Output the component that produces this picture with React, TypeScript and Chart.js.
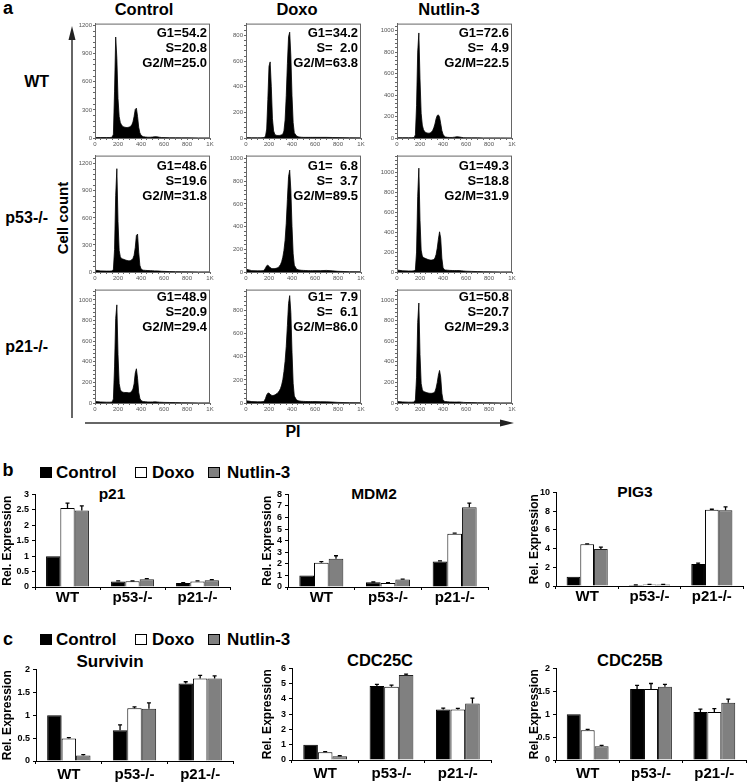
import React, { useEffect, useRef } from 'react';
import { Chart, registerables } from 'chart.js';

Chart.register(...registerables);

const FONT = '"Liberation Sans", Arial, Helvetica, sans-serif';
Chart.defaults.font.family = FONT;

// ---------------- Panel a: DNA content histograms ----------------
const treatments = ['Control', 'Doxo', 'Nutlin-3'];
const genotypes = ['WT', 'p53-/-', 'p21-/-'];

// PI channel positions (shared grid)
const piGrid = [0, 50, 100, 130, 150,
  160, 170, 180, 190, 200, 210, 220, 230, 240, 250, 260, 270, 280, 290, 300, 310, 320, 330, 340, 350, 360, 370, 380, 390, 400, 410, 420,
  440, 460, 480, 500, 520, 540, 560, 580, 600,
  650, 700, 750, 800, 900, 1000];

const wtControlCounts = [5, 5, 5, 5, 10,
  40, 500, 1077, 850, 420, 230, 165, 140, 125, 118, 115, 112, 112, 114, 118, 125, 140, 170, 230, 305, 318, 230, 115, 55, 30, 20, 14,
  10, 8, 8, 10, 14, 12, 8, 5, 4,
  3, 3, 2, 2, 1, 1];
const wtDoxoCounts = [3, 2, 2, 2, 3,
  5, 15, 70, 300, 560, 594, 400, 150, 55, 30, 22, 20, 20, 20, 22, 25, 30, 55, 140, 330, 580, 790, 826, 640, 330, 120, 40,
  15, 8, 6, 5, 5, 5, 5, 5, 5,
  5, 5, 4, 3, 2, 1];
const wtNutlinCounts = [3, 3, 3, 3, 5,
  30, 300, 800, 978, 550, 230, 120, 78, 60, 52, 47, 45, 45, 48, 55, 70, 95, 130, 180, 210, 215, 195, 135, 70, 35, 18, 10,
  6, 5, 5, 8, 12, 10, 6, 3, 2,
  2, 2, 1, 1, 1, 0];
const p53ControlCounts = [20, 12, 10, 10, 12,
  30, 250, 850, 1145, 560, 240, 170, 150, 145, 140, 135, 130, 128, 125, 125, 128, 135, 150, 185, 270, 405, 420, 220, 75, 35, 25, 20,
  18, 16, 15, 14, 12, 12, 10, 8, 7,
  5, 4, 3, 2, 1, 1];
const p53DoxoCounts = [25, 12, 10, 10, 12,
  20, 35, 55, 60, 50, 40, 32, 30, 30, 30, 32, 35, 40, 50, 65, 90, 130, 190, 280, 430, 640, 840, 897, 720, 400, 160, 60,
  25, 18, 15, 14, 13, 12, 12, 12, 12,
  12, 14, 10, 6, 3, 2];
const p53NutlinCounts = [20, 12, 10, 10, 12,
  25, 200, 760, 1044, 520, 220, 160, 145, 140, 135, 130, 125, 122, 120, 120, 122, 125, 140, 175, 240, 330, 404, 340, 140, 45, 25, 20,
  18, 16, 15, 14, 14, 14, 12, 10, 8,
  6, 4, 3, 2, 1, 1];
const p21ControlCounts = [15, 10, 8, 8, 10,
  40, 350, 820, 952, 470, 190, 130, 112, 106, 103, 102, 102, 102, 100, 100, 105, 115, 135, 185, 290, 332, 240, 105, 45, 25, 18, 14,
  12, 10, 10, 10, 12, 10, 8, 7, 6,
  5, 4, 3, 2, 1, 1];
const p21DoxoCounts = [20, 12, 10, 10, 12,
  20, 40, 70, 85, 86, 75, 68, 65, 66, 70, 75, 82, 92, 105, 125, 155, 200, 270, 360, 490, 670, 860, 928, 780, 440, 170, 60,
  25, 18, 15, 14, 13, 12, 12, 12, 12,
  11, 10, 8, 5, 3, 2];
const p21NutlinCounts = [15, 10, 8, 8, 10,
  30, 250, 780, 970, 470, 190, 130, 112, 108, 104, 100, 97, 95, 94, 94, 96, 100, 110, 145, 200, 270, 316, 250, 95, 30, 18, 14,
  12, 10, 10, 9, 9, 10, 8, 6, 5,
  4, 3, 2, 2, 1, 1];

const histCounts = [
  [wtControlCounts, wtDoxoCounts, wtNutlinCounts],
  [p53ControlCounts, p53DoxoCounts, p53NutlinCounts],
  [p21ControlCounts, p21DoxoCounts, p21NutlinCounts],
];

// G1 / S / G2/M percentages
const phaseWT = [[54.2, 20.8, 25.0], [34.2, 2.0, 63.8], [72.6, 4.9, 22.5]];
const phaseP53 = [[48.6, 19.6, 31.8], [6.8, 3.7, 89.5], [49.3, 18.8, 31.9]];
const phaseP21 = [[48.9, 20.9, 29.4], [7.9, 6.1, 86.0], [50.8, 20.7, 29.3]];
const phases = [phaseWT, phaseP53, phaseP21];
const phaseNames = ['G1', 'S', 'G2/M'];

const histYMax = [[1220, 893, 1065], [1290, 1025, 1170], [1100, 980, 1100]];
const histYTicks = [
  [[0, 300, 600, 900, 1200], [0, 200, 400, 600, 800], [0, 200, 400, 600, 800, 1000]],
  [[0, 300, 600, 900, 1200], [0, 200, 400, 600, 800, 1000], [0, 200, 400, 600, 800, 1000]],
  [[0, 200, 400, 600, 800, 1000], [0, 200, 400, 600, 800], [0, 200, 400, 600, 800, 1000]],
];
const piTicks = [0, 200, 400, 600, 800, 1000];
const piTickLabels = ['0', '200', '400', '600', '800', '1K'];

// ---------------- Panels b / c: qPCR bar charts ----------------
const cellLines = ['WT', 'p53-/-', 'p21-/-'];

const p21Control = [1.0, 0.18, 0.13];
const p21Doxo = [2.56, 0.19, 0.18];
const p21Nutlin = [2.48, 0.25, 0.22];
const p21ControlErr = [0, 0.02, 0.01];
const p21DoxoErr = [0.16, 0.01, 0.02];
const p21NutlinErr = [0.15, 0.02, 0.02];
const p21Ticks = [0, 0.5, 1, 1.5, 2, 2.5, 3];

const mdm2Control = [1.0, 0.4, 2.2];
const mdm2Doxo = [2.1, 0.35, 4.6];
const mdm2Nutlin = [2.45, 0.65, 6.9];
const mdm2ControlErr = [0, 0.03, 0.05];
const mdm2DoxoErr = [0.1, 0.02, 0.05];
const mdm2NutlinErr = [0.25, 0.03, 0.35];
const mdm2Ticks = [0, 1, 2, 3, 4, 5, 6, 7, 8];

const pig3Control = [1.0, 0.1, 2.35];
const pig3Doxo = [4.45, 0.15, 8.15];
const pig3Nutlin = [3.95, 0.15, 8.1];
const pig3ControlErr = [0, 0.02, 0.1];
const pig3DoxoErr = [0.05, 0.02, 0.05];
const pig3NutlinErr = [0.2, 0.02, 0.35];
const pig3Ticks = [0, 2, 4, 6, 8, 10];

const survivinControl = [1.0, 0.67, 1.69];
const survivinDoxo = [0.49, 1.15, 1.8];
const survivinNutlin = [0.12, 1.14, 1.8];
const survivinControlErr = [0, 0.12, 0.04];
const survivinDoxoErr = [0.02, 0.03, 0.07];
const survivinNutlinErr = [0.02, 0.13, 0.06];
const survivinTicks = [0, 0.5, 1, 1.5, 2];

const cdc25cControl = [1.0, 4.85, 3.3];
const cdc25cDoxo = [0.5, 4.8, 3.3];
const cdc25cNutlin = [0.25, 5.57, 3.7];
const cdc25cControlErr = [0, 0.1, 0.1];
const cdc25cDoxoErr = [0.05, 0.1, 0.08];
const cdc25cNutlinErr = [0.03, 0.05, 0.35];
const cdc25cTicks = [0, 1, 2, 3, 4, 5, 6];

const cdc25bControl = [1.0, 1.55, 1.05];
const cdc25bDoxo = [0.65, 1.55, 1.05];
const cdc25bNutlin = [0.3, 1.6, 1.25];
const cdc25bControlErr = [0, 0.08, 0.06];
const cdc25bDoxoErr = [0.02, 0.12, 0.07];
const cdc25bNutlinErr = [0.02, 0.05, 0.08];
const cdc25bTicks = [0, 0.5, 1, 1.5, 2];

const seriesNames = ['Control', 'Doxo', 'Nutlin-3'];
const seriesFill = ['#000000', '#ffffff', '#808080'];
const seriesBorder = ['#000000', '#000000', '#222222'];

// ---------------- plugins ----------------
const framePlugin = {
  id: 'frameBox',
  afterDatasetsDraw(chart: any) {
    const { ctx, chartArea } = chart;
    ctx.save();
    ctx.strokeStyle = '#666';
    ctx.lineWidth = 1;
    ctx.strokeRect(chartArea.left + 0.5, chartArea.top + 0.5, chartArea.right - chartArea.left - 1, chartArea.bottom - chartArea.top);
    ctx.restore();
  },
};

const errorBarPlugin = {
  id: 'errorBars',
  afterDatasetsDraw(chart: any) {
    const { ctx } = chart;
    const yScale = chart.scales.y;
    ctx.save();
    ctx.strokeStyle = '#000';
    ctx.lineWidth = 1.3;
    chart.data.datasets.forEach((ds: any, i: number) => {
      const errs: number[] = ds.errors;
      if (!errs) return;
      const meta = chart.getDatasetMeta(i);
      meta.data.forEach((bar: any, j: number) => {
        const e = errs[j];
        if (!e) return;
        const yTop = yScale.getPixelForValue(ds.data[j] + e);
        ctx.beginPath();
        ctx.moveTo(bar.x, bar.y);
        ctx.lineTo(bar.x, yTop);
        ctx.moveTo(bar.x - 2, yTop);
        ctx.lineTo(bar.x + 2, yTop);
        ctx.stroke();
      });
    });
    ctx.restore();
  },
};

// ---------------- components ----------------
type TxtProps = { x: number; y: number; text: string; size: number; align?: 'left' | 'center' | 'right'; rotate?: boolean };
function Txt({ x, y, text, size, align = 'center', rotate = false }: TxtProps) {
  const tx = align === 'center' ? '-50%' : align === 'right' ? '-100%' : '0';
  return (
    <div
      style={{
        position: 'absolute', left: x, top: y,
        transform: `translate(${tx}, -50%)${rotate ? ' rotate(-90deg)' : ''}`,
        fontSize: size, lineHeight: 1, fontWeight: 700, whiteSpace: 'pre', color: '#000', fontFamily: FONT,
      }}
    >
      {text}
    </div>
  );
}

type HistProps = { boxLeft: number; boxTop: number; boxW: number; boxH: number; counts: number[]; yMax: number; yTicks: number[] };
const HIST_Y_W = 24;
const HIST_X_H = 12;
const HIST_PAD_TOP = 4;
const HIST_PAD_RIGHT = 6;

function HistChart({ boxLeft, boxTop, boxW, boxH, counts, yMax, yTicks }: HistProps) {
  const ref = useRef<HTMLCanvasElement>(null);
  const w = HIST_Y_W + boxW + HIST_PAD_RIGHT;
  const h = HIST_PAD_TOP + boxH + HIST_X_H;
  useEffect(() => {
    if (!ref.current) return;
    const yStep = yTicks[1] - yTicks[0];
    const chart = new Chart(ref.current, {
      type: 'line',
      data: {
        datasets: [{
          data: piGrid.map((x, i) => ({ x, y: counts[i] })),
          borderColor: '#000', backgroundColor: '#000', borderWidth: 0.8,
          fill: 'origin', pointRadius: 0, tension: 0,
        }],
      },
      options: {
        responsive: false, animation: false,
        layout: { padding: { top: HIST_PAD_TOP, right: HIST_PAD_RIGHT, left: 0, bottom: 0 } },
        plugins: { legend: { display: false }, tooltip: { enabled: false } },
        scales: {
          x: {
            type: 'linear', min: 0, max: 1000,
            afterBuildTicks: (scale: any) => {
              const t: any[] = [];
              for (let v = 0; v <= 1000; v += 50) t.push({ value: v });
              scale.ticks = t;
            },
            afterFit: (scale: any) => { scale.height = HIST_X_H; },
            ticks: {
              autoSkip: false, maxRotation: 0, minRotation: 0, padding: 1,
              font: { size: 6 }, color: '#555',
              callback: (v: any) => { const k = piTicks.indexOf(Number(v)); return k >= 0 ? piTickLabels[k] : ''; },
            },
            grid: { drawOnChartArea: false, tickLength: 2, color: '#666' },
            border: { color: '#666' },
          },
          y: {
            type: 'linear', min: 0, max: yMax,
            afterBuildTicks: (scale: any) => {
              const t: any[] = [];
              for (let v = 0; v <= yMax; v += yStep / 5) t.push({ value: v });
              scale.ticks = t;
            },
            afterFit: (scale: any) => { scale.width = HIST_Y_W; },
            ticks: {
              autoSkip: false, padding: 1, font: { size: 6 }, color: '#555',
              callback: (v: any) => (yTicks.indexOf(Number(v)) >= 0 ? String(v) : ''),
            },
            grid: { drawOnChartArea: false, tickLength: 2, color: '#666' },
            border: { color: '#666' },
          },
        },
      } as any,
      plugins: [framePlugin],
    });
    return () => chart.destroy();
  }, []);
  return (
    <canvas
      ref={ref}
      width={w}
      height={h}
      style={{ position: 'absolute', left: boxLeft - HIST_Y_W, top: boxTop - HIST_PAD_TOP, width: w, height: h }}
    />
  );
}

type BarProps = {
  left: number; axisX: number; areaRight: number; areaTop: number; areaBottom: number; xAxisH: number; labelPad: number;
  values: number[][]; errors: number[][]; ticks: number[];
};
const BAR_PAD_TOP = 8;
const BAR_PAD_RIGHT = 4;

function BarChart({ left, axisX, areaRight, areaTop, areaBottom, xAxisH, labelPad, values, errors, ticks }: BarProps) {
  const ref = useRef<HTMLCanvasElement>(null);
  const yW = axisX - left;
  const w = areaRight - left + BAR_PAD_RIGHT;
  const h = BAR_PAD_TOP + (areaBottom - areaTop) + xAxisH;
  const canvasTop = areaTop - BAR_PAD_TOP;
  useEffect(() => {
    if (!ref.current) return;
    const yMax = ticks[ticks.length - 1];
    const chart = new Chart(ref.current, {
      type: 'bar',
      data: {
        labels: cellLines,
        datasets: seriesNames.map((name, k) => ({
          label: name,
          data: values[k],
          errors: errors[k],
          backgroundColor: seriesFill[k],
          borderColor: seriesBorder[k],
          borderWidth: 1,
          categoryPercentage: 0.66,
          barPercentage: 1.0,
        })) as any,
      },
      options: {
        responsive: false, animation: false,
        layout: { padding: { top: BAR_PAD_TOP, right: BAR_PAD_RIGHT, left: 0, bottom: 0 } },
        plugins: { legend: { display: false }, tooltip: { enabled: false } },
        scales: {
          x: {
            grid: { drawOnChartArea: false, tickLength: 3, color: '#000', offset: true },
            border: { color: '#000', width: 1 },
            ticks: { font: { size: 15, weight: 'bold' }, color: '#000', padding: labelPad, maxRotation: 0, autoSkip: false },
            afterFit: (scale: any) => { scale.height = xAxisH; },
          },
          y: {
            min: 0, max: yMax,
            afterBuildTicks: (scale: any) => { scale.ticks = ticks.map((v) => ({ value: v })); },
            ticks: {
              autoSkip: false, font: { size: 9, weight: 'bold' }, color: '#000', padding: 3,
              callback: (v: any) => String(v),
            },
            grid: { drawOnChartArea: false, tickLength: 3, color: '#000' },
            border: { color: '#000' },
            title: { display: true, text: 'Rel. Expression', font: { size: 12, weight: 'bold' }, color: '#000', padding: { top: 0, bottom: 0 } },
            afterFit: (scale: any) => { scale.width = yW; },
          },
        },
      } as any,
      plugins: [errorBarPlugin],
    });
    return () => chart.destroy();
  }, []);
  return (
    <canvas
      ref={ref}
      width={w}
      height={h}
      style={{ position: 'absolute', left, top: canvasTop, width: w, height: h }}
    />
  );
}

function Legend({ y }: { y: number }) {
  const squares = [40, 135, 208];
  const texts = [56, 152, 227];
  return (
    <>
      {seriesNames.map((name, k) => (
        <React.Fragment key={name}>
          <div
            style={{
              position: 'absolute', left: squares[k], top: y - 5.5, width: 10, height: 9,
              background: seriesFill[k], border: '1.5px solid #000',
            }}
          />
          <Txt x={texts[k]} y={y} text={name} size={17} align="left" />
        </React.Fragment>
      ))}
    </>
  );
}

const colBoxLeft = [95, 246, 397];
const rowBoxTop = [23, 155, 289];
const rowBoxH = [115, 117, 114];
const BOX_W = 115;
const rowTextOffset = [9, 10, 7];

function fmtPhase(name: string, v: number) {
  const s = v.toFixed(1);
  return `${name}=${v < 10 ? '  ' : ''}${s}`;
}

export default function App() {
  return (
    <div
      style={{
        position: 'absolute', left: 0, top: 0, width: 752, height: 783, background: '#fff',
        overflow: 'hidden', fontFamily: FONT,
      }}
    >
      {/* panel letters */}
      <Txt x={8} y={8} text="a" size={18} />
      <Txt x={8} y={470} text="b" size={18} />
      <Txt x={8} y={639} text="c" size={18} />

      {/* column headers */}
      <Txt x={144} y={9} text={treatments[0]} size={16.5} />
      <Txt x={297} y={9} text={treatments[1]} size={16.5} />
      <Txt x={449} y={9} text={treatments[2]} size={16.5} />

      {/* row labels */}
      <Txt x={49} y={82} text={genotypes[0]} size={16} align="right" />
      <Txt x={48} y={218} text={genotypes[1]} size={16} align="right" />
      <Txt x={48} y={347} text={genotypes[2]} size={16} align="right" />

      {/* axis arrows */}
      <svg width={752} height={783} style={{ position: 'absolute', left: 0, top: 0 }}>
        <line x1={72} y1={38} x2={72} y2={418} stroke="#333" strokeWidth={1.5} />
        <polygon points="72,26 68.5,40 75.5,40" fill="#222" />
        <line x1={85} y1={423} x2={502} y2={423} stroke="#333" strokeWidth={1.5} />
        <polygon points="514,423 500,419.5 500,426.5" fill="#222" />
      </svg>
      <Txt x={62} y={218} text="Cell count" size={15} rotate />
      <Txt x={293} y={432} text="PI" size={16} />

      {/* histograms */}
      {histCounts.map((row, r) =>
        row.map((counts, c) => (
          <HistChart
            key={`h${r}${c}`}
            boxLeft={colBoxLeft[c]}
            boxTop={rowBoxTop[r]}
            boxW={BOX_W}
            boxH={rowBoxH[r]}
            counts={counts}
            yMax={histYMax[r][c]}
            yTicks={histYTicks[r][c]}
          />
        )),
      )}
      {phases.map((row, r) =>
        row.map((vals, c) =>
          vals.map((v, k) => (
            <Txt
              key={`t${r}${c}${k}`}
              x={colBoxLeft[c] + BOX_W - 3}
              y={rowBoxTop[r] + rowTextOffset[r] + 15 * k}
              text={fmtPhase(phaseNames[k], v)}
              size={13}
              align="right"
            />
          )),
        ),
      )}

      {/* panel b */}
      <Legend y={472} />
      <Txt x={112} y={494} text="p21" size={15.5} />
      <Txt x={374} y={494} text="MDM2" size={15.5} />
      <Txt x={635} y={492} text="PIG3" size={15.5} />
      <BarChart left={0} axisX={35} areaRight={230} areaTop={494} areaBottom={587} xAxisH={18} labelPad={-1}
        values={[p21Control, p21Doxo, p21Nutlin]} errors={[p21ControlErr, p21DoxoErr, p21NutlinErr]} ticks={p21Ticks} />
      <BarChart left={260} axisX={288} areaRight={488} areaTop={494} areaBottom={587} xAxisH={18} labelPad={-1}
        values={[mdm2Control, mdm2Doxo, mdm2Nutlin]} errors={[mdm2ControlErr, mdm2DoxoErr, mdm2NutlinErr]} ticks={mdm2Ticks} />
      <BarChart left={527} axisX={556} areaRight={743} areaTop={492} areaBottom={586} xAxisH={18} labelPad={-1}
        values={[pig3Control, pig3Doxo, pig3Nutlin]} errors={[pig3ControlErr, pig3DoxoErr, pig3NutlinErr]} ticks={pig3Ticks} />

      {/* panel c */}
      <Legend y={639} />
      <Txt x={110} y={661} text="Survivin" size={17} />
      <Txt x={380} y={660} text="CDC25C" size={16.5} />
      <Txt x={630} y={660} text="CDC25B" size={16.5} />
      <BarChart left={0} axisX={36} areaRight={233} areaTop={669} areaBottom={761} xAxisH={22} labelPad={2}
        values={[survivinControl, survivinDoxo, survivinNutlin]} errors={[survivinControlErr, survivinDoxoErr, survivinNutlinErr]} ticks={survivinTicks} />
      <BarChart left={260} axisX={292} areaRight={491} areaTop={668} areaBottom={760} xAxisH={22} labelPad={2}
        values={[cdc25cControl, cdc25cDoxo, cdc25cNutlin]} errors={[cdc25cControlErr, cdc25cDoxoErr, cdc25cNutlinErr]} ticks={cdc25cTicks} />
      <BarChart left={527} axisX={556} areaRight={746} areaTop={668} areaBottom={760} xAxisH={22} labelPad={2}
        values={[cdc25bControl, cdc25bDoxo, cdc25bNutlin]} errors={[cdc25bControlErr, cdc25bDoxoErr, cdc25bNutlinErr]} ticks={cdc25bTicks} />
    </div>
  );
}
